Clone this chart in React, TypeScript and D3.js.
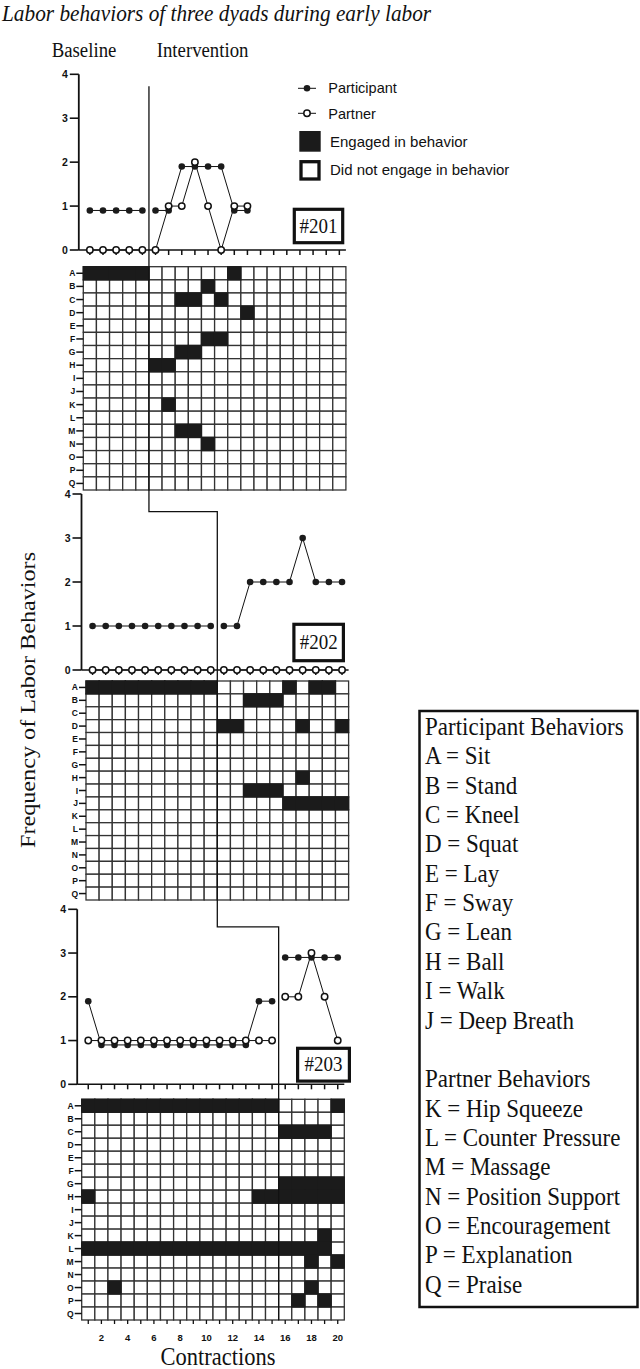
import React from "react";
import * as d3 from "d3";

// contractions 1..20 along the x axis
const contractions = d3.range(1, 21);
const yTicks = [0, 1, 2, 3, 4];
const behaviorCodes = "ABCDEFGHIJKLMNOPQ".split("");
const dyadLabels = ["#201", "#202", "#203"];
// last baseline contraction for each dyad
const baselineEnds = [5, 10, 15];

// frequency of labor behaviors per contraction
const participant201 = [0.9, 0.9, 0.9, 0.9, 0.9, 0.9, 0.9, 1.9, 1.9, 1.9, 1.9, 0.9, 0.9];
const partner201 = [0, 0, 0, 0, 0, 0, 1, 1, 2, 1, 0, 1, 1];
const participant202 = [1, 1, 1, 1, 1, 1, 1, 1, 1, 1, 1, 1, 2, 2, 2, 2, 3, 2, 2, 2];
const partner202 = [0, 0, 0, 0, 0, 0, 0, 0, 0, 0, 0, 0, 0, 0, 0, 0, 0, 0, 0, 0];
const participant203 = [1.9, 0.9, 0.9, 0.9, 0.9, 0.9, 0.9, 0.9, 0.9, 0.9, 0.9, 0.9, 0.9, 1.9, 1.9, 2.9, 2.9, 2.9, 2.9, 2.9];
const partner203 = [1, 1, 1, 1, 1, 1, 1, 1, 1, 1, 1, 1, 1, 1, 1, 2, 2, 3, 2, 1];

// behavior rows A..Q, one character per contraction (1 = engaged)
const cells201 = [
  "11111000000100000000",
  "00000000010000000000",
  "00000001101000000000",
  "00000000000010000000",
  "00000000000000000000",
  "00000000011000000000",
  "00000001100000000000",
  "00000110000000000000",
  "00000000000000000000",
  "00000000000000000000",
  "00000010000000000000",
  "00000000000000000000",
  "00000001100000000000",
  "00000000010000000000",
  "00000000000000000000",
  "00000000000000000000",
  "00000000000000000000",
];
const cells202 = [
  "11111111110000010110",
  "00000000000011100000",
  "00000000000000000000",
  "00000000001100001001",
  "00000000000000000000",
  "00000000000000000000",
  "00000000000000000000",
  "00000000000000001000",
  "00000000000011100000",
  "00000000000000011111",
  "00000000000000000000",
  "00000000000000000000",
  "00000000000000000000",
  "00000000000000000000",
  "00000000000000000000",
  "00000000000000000000",
  "00000000000000000000",
];
const cells203 = [
  "11111111111111100001",
  "00000000000000000000",
  "00000000000000011110",
  "00000000000000000000",
  "00000000000000000000",
  "00000000000000000000",
  "00000000000000011111",
  "10000000000001111111",
  "00000000000000000000",
  "00000000000000000000",
  "00000000000000000010",
  "11111111111111111110",
  "00000000000000000101",
  "00000000000000000000",
  "00100000000000000100",
  "00000000000000001010",
  "00000000000000000000",
];

const participantKey = [
  "A = Sit", "B = Stand", "C = Kneel", "D = Squat", "E = Lay",
  "F = Sway", "G = Lean", "H = Ball", "I = Walk", "J = Deep Breath",
];
const partnerKey = [
  "K = Hip Squeeze", "L = Counter Pressure", "M = Massage", "N = Position Support",
  "O = Encouragement", "P = Explanation", "Q = Praise",
];

const dyads = [
  { participant: participant201, partner: partner201, cells: cells201 },
  { participant: participant202, partner: partner202, cells: cells202 },
  { participant: participant203, partner: partner203, cells: cells203 },
];

const CW = 13.13;
const SERIF = "'Liberation Serif', 'Times New Roman', serif";
const SANS = "'Liberation Sans', Arial, sans-serif";
const INK = "#1b1b1b";

const frames = [
  { left: 83.3, top: 74.3, zero: 250, gridTop: 266.7, gridBottom: 490, box: [292.7, 207.7, 51.6, 36.6] },
  { left: 86, top: 494, zero: 670, gridTop: 681, gridBottom: 900, box: [292.3, 622.7, 52.7, 39.6] },
  { left: 81.7, top: 909.3, zero: 1084.3, gridTop: 1099.3, gridBottom: 1320, box: [296, 1046.7, 55, 36] },
];

const scalesFor = (f) => ({
  x: d3.scaleLinear().domain([0.5, 20.5]).range([f.left, f.left + 20 * CW]),
  y: d3.scaleLinear().domain([0, 4]).range([f.zero, f.top]),
  row: d3.scaleBand().domain(behaviorCodes).range([f.gridTop, f.gridBottom]),
});

const Serif = ({ x, y, size, sx = 1, sy = 1.12, anchor = "start", italic = false, rotate = 0, children }) => (
  <text
    transform={`translate(${x},${y}) rotate(${rotate}) scale(${sx},${sy})`}
    fontFamily={SERIF}
    fontSize={size}
    fontStyle={italic ? "italic" : "normal"}
    textAnchor={anchor}
    fill="#111"
  >
    {children}
  </text>
);

const Panel = ({ idx }) => {
  const f = frames[idx];
  const d = dyads[idx];
  const { x, y, row } = scalesFor(f);
  const axisX = f.left - 4.5;
  const right = f.left + 20 * CW;
  const split = baselineEnds[idx];
  const segs = (vals: number[]) => {
    const pts = vals.map((v, i) => [i + 1, v]);
    return [pts.filter((p) => p[0] <= split), pts.filter((p) => p[0] > split)];
  };
  const path = (pts) =>
    d3.line<number[]>().x((p) => x(p[0])).y((p) => y(p[1]))(pts) || "";
  const ch = row.bandwidth();
  const [bx, by, bw, bh] = f.box;

  return (
    <g>
      {/* y axis */}
      <line x1={axisX} x2={axisX} y1={y(4)} y2={y(0)} stroke="#111" strokeWidth={1.8} />
      {yTicks.map((t) => (
        <g key={t}>
          <line x1={axisX - 9} x2={axisX} y1={y(t)} y2={y(t)} stroke="#111" strokeWidth={1.6} />
          <text x={axisX - 11} y={y(t) + 3.6} textAnchor="end" fontFamily={SANS} fontWeight="bold" fontSize={10.5} fill="#111">
            {t}
          </text>
        </g>
      ))}
      {/* x axis */}
      <line x1={axisX} x2={right} y1={y(0)} y2={y(0)} stroke="#111" strokeWidth={1.6} />
      {contractions.map((c) => (
        <line key={c} x1={x(c)} x2={x(c)} y1={y(0)} y2={y(0) + 5} stroke="#111" strokeWidth={1.5} />
      ))}

      {/* series lines, broken at the phase change */}
      {[d.participant, d.partner].flatMap((vals, k) =>
        segs(vals).map((s, j) => (
          <path key={`${k}-${j}`} d={path(s)} fill="none" stroke="#111" strokeWidth={1} />
        ))
      )}
      {d.participant.map((v, i) => (
        <circle key={`p${i}`} cx={x(i + 1)} cy={y(v)} r={3.3} fill={INK} />
      ))}
      {d.partner.map((v, i) => (
        <circle key={`q${i}`} cx={x(i + 1)} cy={y(v)} r={3.2} fill="#fff" stroke="#111" strokeWidth={1.5} />
      ))}

      {/* dyad label */}
      <rect x={bx + 1.6} y={by + 1.6} width={bw - 3.2} height={bh - 3.2} fill="#fff" stroke="#111" strokeWidth={3.2} />
      <Serif x={bx + bw / 2} y={by + bh / 2 + 6.5} size={19} sy={1.12} anchor="middle">
        {dyadLabels[idx]}
      </Serif>

      {/* behavior grid */}
      {behaviorCodes.map((code) => (
        <g key={code}>
          {contractions.map((c) => (
            <rect key={c} x={x(c) - CW / 2} y={row(code)} width={CW} height={ch} fill="#fff" stroke="#333" strokeWidth={1.3} />
          ))}
          <line x1={f.left - 7} x2={f.left} y1={row(code) + ch / 2} y2={row(code) + ch / 2} stroke="#111" strokeWidth={1.5} />
          <text x={f.left - 8} y={row(code) + ch / 2 + 3} textAnchor="end" fontFamily={SANS} fontWeight="bold" fontSize={8.5} fill="#111">
            {code}
          </text>
        </g>
      ))}
      {behaviorCodes.map((code, r) =>
        contractions
          .filter((c) => d.cells[r][c - 1] === "1")
          .map((c) => (
            <rect key={`${code}${c}`} x={x(c) - CW / 2 - 0.65} y={row(code) - 0.65} width={CW + 1.3} height={ch + 1.3} fill={INK} />
          ))
      )}
    </g>
  );
};

export default function App() {
  const s = frames.map(scalesFor);
  const f3 = frames[2];
  // staircase phase-change line running through the three dyads
  const phaseX = baselineEnds.map((b, i) => s[i].x(b + 0.5));
  const phase = [
    `M${phaseX[0]},${s[0].y(3.73)}`,
    `V${s[1].y(3.6)}`,
    `H${phaseX[1]}`,
    `V${s[2].y(3.6)}`,
    `H${phaseX[2]}`,
    `V${f3.gridBottom}`,
  ].join("");

  const keyLines = ["Participant Behaviors", ...participantKey, "", "Partner Behaviors", ...partnerKey];

  return (
    <svg width={640} height={1369} style={{ position: "absolute", left: 0, top: 0, background: "#fff" }}>
      <rect width={640} height={1369} fill="#fff" />
      <Serif x={2} y={20.5} size={21.3} sy={1.06} italic>
        Labor behaviors of three dyads during early labor
      </Serif>
      <Serif x={51.7} y={56.7} size={18.8}>Baseline</Serif>
      <Serif x={156.7} y={56.7} size={18.8}>Intervention</Serif>

      {frames.map((_, i) => (
        <Panel key={i} idx={i} />
      ))}
      <path d={phase} fill="none" stroke="#111" strokeWidth={1.3} />

      {/* contraction ticks under the last grid */}
      {contractions.map((c) => (
        <g key={c}>
          <line x1={s[2].x(c)} x2={s[2].x(c)} y1={f3.gridBottom} y2={f3.gridBottom + 4} stroke="#111" strokeWidth={1.3} />
          {c % 2 === 0 && (
            <text x={s[2].x(c)} y={1340.5} textAnchor="middle" fontFamily={SANS} fontWeight="bold" fontSize={9.5} fill="#111">
              {c}
            </text>
          )}
        </g>
      ))}
      <Serif x={218} y={1364.5} size={22.5} sy={1.08} anchor="middle">Contractions</Serif>
      <Serif x={35} y={700} size={22} sx={1.1} sy={1} rotate={-90} anchor="middle">
        Frequency of Labor Behaviors
      </Serif>

      {/* series / cell legend */}
      <line x1={298} x2={316} y1={88.3} y2={88.3} stroke="#111" strokeWidth={1} />
      <circle cx={307} cy={88.3} r={3.3} fill={INK} />
      <text x={328.3} y={93.3} fontFamily={SANS} fontSize={14.5} fill="#111">Participant</text>
      <line x1={298} x2={316} y1={113.3} y2={113.3} stroke="#111" strokeWidth={1} />
      <circle cx={307} cy={113.3} r={3.2} fill="#fff" stroke="#111" strokeWidth={1.5} />
      <text x={328.3} y={118.7} fontFamily={SANS} fontSize={14.5} fill="#111">Partner</text>
      <rect x={299.3} y={131} width={21.4} height={20.7} fill={INK} />
      <text x={330} y={147.3} fontFamily={SANS} fontSize={15} fill="#111">Engaged in behavior</text>
      <rect x={301} y={161.7} width={18} height={17.3} fill="#fff" stroke="#111" strokeWidth={3.3} />
      <text x={330} y={175} fontFamily={SANS} fontSize={15} fill="#111">Did not engage in behavior</text>

      {/* behavior code key */}
      <rect x={419.5} y={711} width={218} height={596} fill="#fff" stroke="#111" strokeWidth={2.5} />
      {keyLines.map((t, i) => (
        <Serif key={i} x={425} y={735 + i * 29.35} size={23} sy={1.05}>
          {t}
        </Serif>
      ))}
    </svg>
  );
}
